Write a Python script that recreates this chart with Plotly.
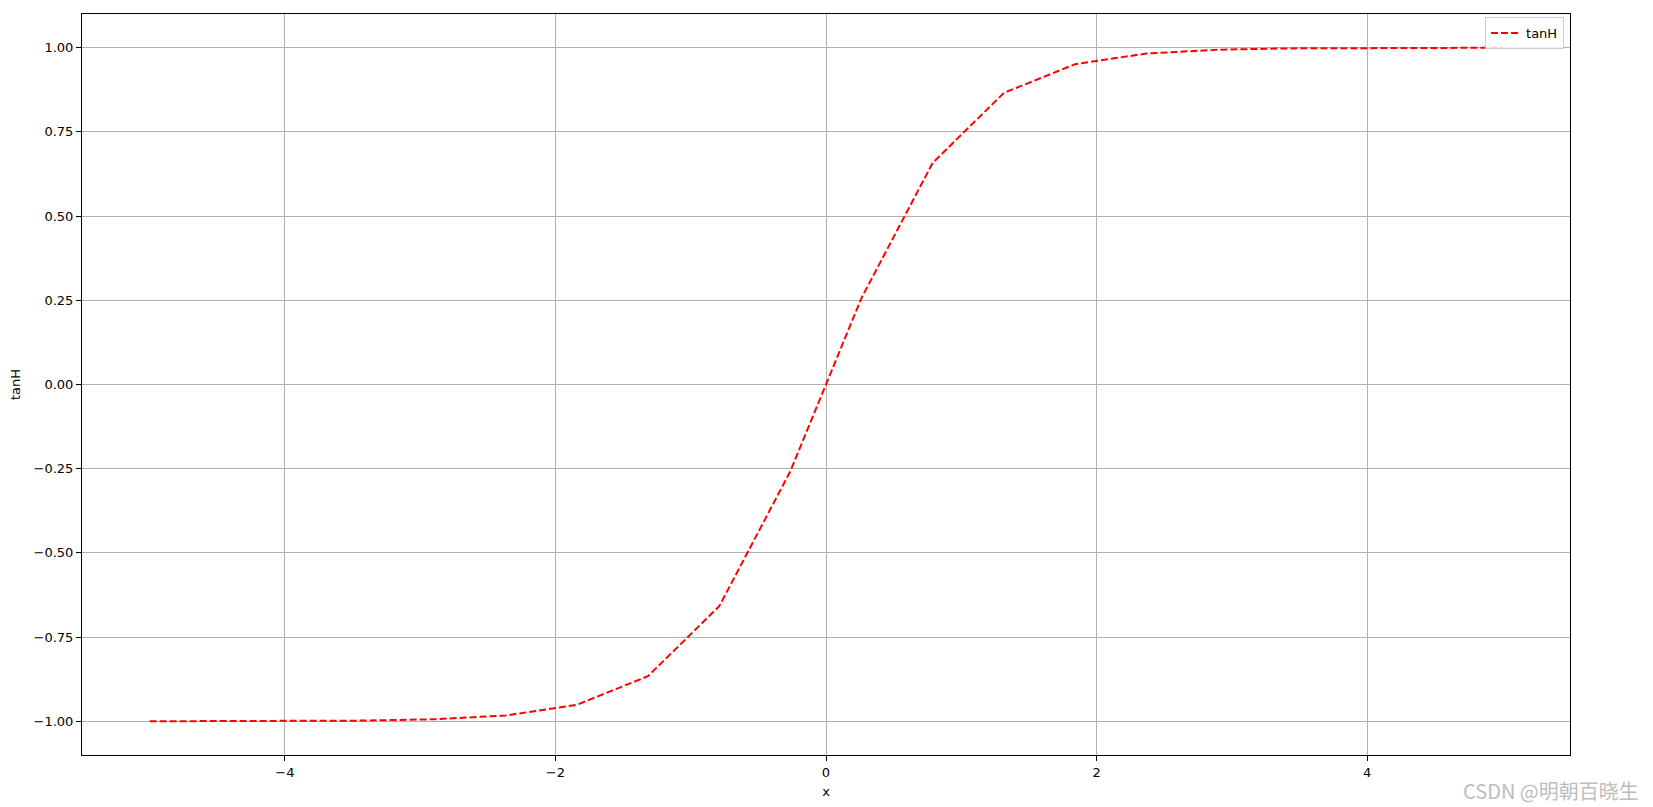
import plotly.graph_objects as go

# sample points (20 evenly spaced x values)
x_vals = [-5.0, -4.474, -3.947, -3.421, -2.895, -2.368, -1.842, -1.316, -0.789, -0.263,
          0.263, 0.789, 1.316, 1.842, 2.368, 2.895, 3.421, 3.947, 4.474, 5.0]
tanh_vals = [-0.9999, -0.9997, -0.9993, -0.9979, -0.9939, -0.9826, -0.9510, -0.8660, -0.6582, -0.2572,
             0.2572, 0.6582, 0.8660, 0.9510, 0.9826, 0.9939, 0.9979, 0.9993, 0.9997, 0.9999]

x_ticks = [-4, -2, 0, 2, 4]
x_tick_text = ['\u22124', '\u22122', '0', '2', '4']
y_ticks = [-1.0, -0.75, -0.5, -0.25, 0.0, 0.25, 0.5, 0.75, 1.0]
y_tick_text = ['\u22121.00', '\u22120.75', '\u22120.50', '\u22120.25', '0.00', '0.25', '0.50', '0.75', '1.00']

fig = go.Figure()
fig.add_trace(go.Scatter(x=x_vals, y=tanh_vals, mode='lines', name='tanH',
                         line=dict(color='red', width=2, dash='7px,3px')))

axis_style = dict(showline=True, linecolor='black', linewidth=1, mirror=True,
                  showgrid=True, gridcolor='#b0b0b0', gridwidth=1, zeroline=False,
                  ticks='outside', ticklen=5, tickcolor='black', automargin=False,
                  tickfont=dict(family='DejaVu Sans', size=13, color='black'))

fig.update_layout(
    width=1653, height=807,
    margin=dict(l=74, r=91, t=6, b=60),
    plot_bgcolor='white', paper_bgcolor='white',
    font=dict(family='DejaVu Sans', size=13, color='black'),
    showlegend=True,
    legend=dict(x=0.996, y=0.996, xanchor='right', yanchor='top',
                bgcolor='rgba(255,255,255,0.8)', bordercolor='#cccccc', borderwidth=1,
                font=dict(size=13)),
    xaxis=dict(range=[-5.5, 5.5], tickvals=x_ticks, ticktext=x_tick_text,
               title=dict(text='x', standoff=8, font=dict(size=13)), **axis_style),
    yaxis=dict(range=[-1.1, 1.1], tickvals=y_ticks, ticktext=y_tick_text,
               title=dict(text='tanH', standoff=11, font=dict(size=13)), **axis_style),
)

fig.add_annotation(text='CSDN @明朝百晓生', xref='paper', yref='paper', x=1.048, y=-0.048,
                   xanchor='right', yanchor='middle', showarrow=False,
                   font=dict(family='Noto Sans CJK SC', size=20, color='#bdbdbd'))

fig.write_html("out.html")
